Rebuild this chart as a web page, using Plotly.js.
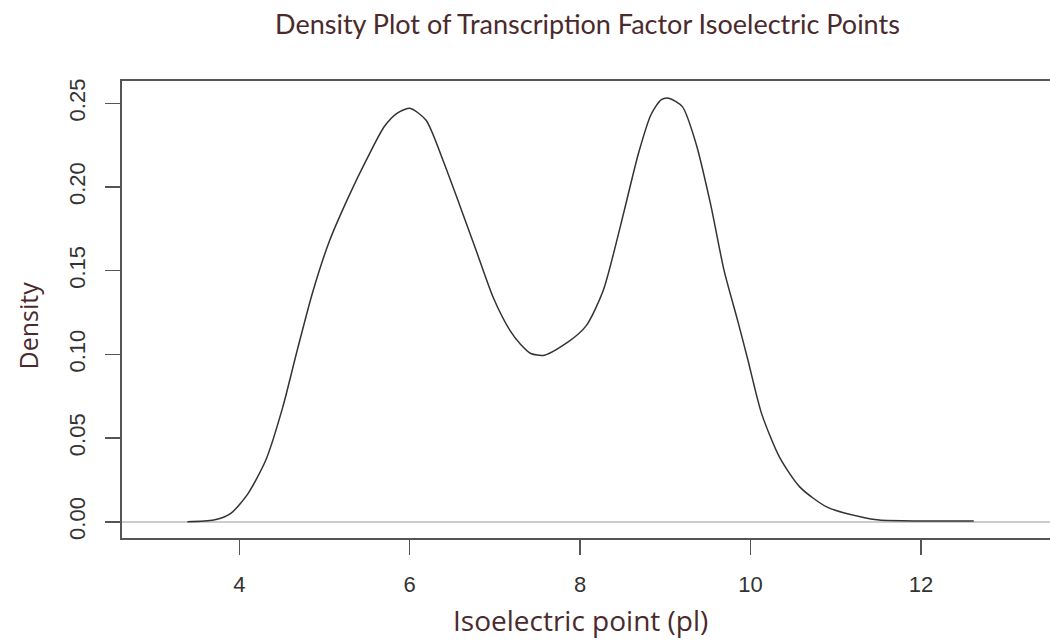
<!DOCTYPE html>
<html>
<head>
<meta charset="utf-8">
<script src="https://cdn.plot.ly/plotly-3.0.1.min.js"></script>
<style>html,body{margin:0;padding:0;background:#fff;}#chart{width:1050px;height:641px;}</style>
</head>
<body>
<div id="chart"></div>
<script>
// Isoelectric point values (x) and estimated density (y)
const pI = [3.39, 3.7, 3.9, 4.1, 4.31, 4.51, 4.67, 4.86, 5.06, 5.29, 5.49, 5.70, 5.85, 6.0, 6.19, 6.39, 6.58, 6.78, 6.98, 7.18, 7.30, 7.42, 7.58, 7.86, 8.07, 8.27, 8.47, 8.59, 8.69, 8.83, 8.95, 9.04, 9.20, 9.36, 9.53, 9.69, 9.85, 9.97, 10.13, 10.34, 10.58, 10.90, 11.30, 11.51, 12.0, 12.62];
const density = [0, 0.001, 0.005, 0.0167, 0.0367, 0.0685, 0.1005, 0.137, 0.168, 0.195, 0.216, 0.236, 0.244, 0.247, 0.240, 0.216, 0.190, 0.162, 0.134, 0.114, 0.106, 0.1005, 0.0995, 0.1074, 0.117, 0.138, 0.176, 0.201, 0.221, 0.243, 0.252, 0.253, 0.248, 0.226, 0.190, 0.150, 0.120, 0.0965, 0.0646, 0.0386, 0.0207, 0.0087, 0.0028, 0.001, 0.0005, 0.0005];
const xTicks = [4, 6, 8, 10, 12];
const yTicks = [0, 0.05, 0.10, 0.15, 0.20, 0.25];
const yTickText = ["0.00", "0.05", "0.10", "0.15", "0.20", "0.25"];
const titleText = 'Density Plot of Transcription Factor Isoelectric Points';
const xTitleText = 'Isoelectric point (pl)';
const yTitleText = 'Density';

const titleColor = '#4a2a2c';
const trace = {
  x: pI, y: density, type: 'scatter', mode: 'lines',
  line: {color: '#333333', width: 1.5, shape: 'spline', smoothing: 0.7},
  hoverinfo: 'x+y'
};
const layout = {
  width: 1050, height: 641,
  margin: {l: 122, r: 0, t: 81, b: 103, pad: 0},
  paper_bgcolor: '#ffffff', plot_bgcolor: '#ffffff',
  showlegend: false,
  title: {text: titleText, x: 0.5595, xanchor: 'center', y: 0.962, yanchor: 'middle',
          font: {family: 'Lato, sans-serif', size: 27, color: titleColor}},
  xaxis: {
    range: [2.623, 13.515], tickvals: xTicks, ticktext: xTicks.map(String),
    showgrid: false, zeroline: false,
    showline: true, linecolor: '#555555', linewidth: 2, mirror: true,
    ticks: 'outside', ticklen: 15, tickwidth: 1.5, tickcolor: '#555555',
    ticklabelstandoff: 11,
    tickfont: {family: 'Liberation Sans, Arial, sans-serif', size: 22, color: '#333333'}
  },
  yaxis: {
    range: [-0.0097, 0.2633], tickvals: yTicks, ticktext: yTickText, tickangle: -90,
    showgrid: false, zeroline: true, zerolinecolor: '#cccccc', zerolinewidth: 1.5,
    showline: true, linecolor: '#555555', linewidth: 2, mirror: false,
    ticks: 'outside', ticklen: 15, tickwidth: 1.5, tickcolor: '#555555',
    ticklabelstandoff: 11,
    tickfont: {family: 'Liberation Sans, Arial, sans-serif', size: 22, color: '#333333'}
  },
  annotations: [
    {text: xTitleText, xref: 'paper', yref: 'paper', x: (580 - 122) / 928, y: (537.5 - 619) / 457,
     xanchor: 'center', yanchor: 'middle', showarrow: false,
     font: {family: 'Open Sans, sans-serif', size: 28, color: titleColor}},
    {text: yTitleText, xref: 'paper', yref: 'paper', x: (27 - 122) / 928, y: (537.5 - 325) / 457,
     xanchor: 'center', yanchor: 'middle', showarrow: false, textangle: -90,
     font: {family: 'Open Sans, sans-serif', size: 25, color: titleColor}}
  ]
};
Plotly.newPlot('chart', [trace], layout, {displayModeBar: false, staticPlot: true});
</script>
</body>
</html>
